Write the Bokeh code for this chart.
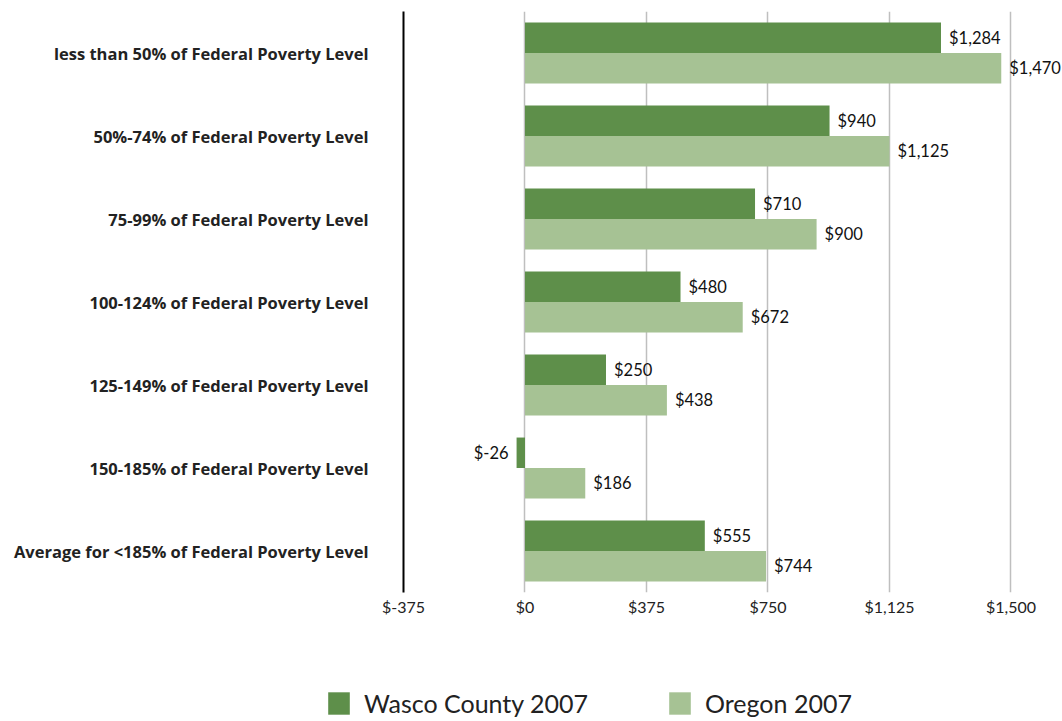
from bokeh.plotting import figure
from bokeh.layouts import column
from bokeh.models import (ColumnDataSource, FactorRange, FixedTicker, Legend, LegendItem, Range1d)
from bokeh.transform import dodge
from bokeh.core.properties import value
from bokeh.embed import file_html
from bokeh.resources import INLINE

categories = [
    "less than 50% of Federal Poverty Level",
    "50%-74% of Federal Poverty Level",
    "75-99% of Federal Poverty Level",
    "100-124% of Federal Poverty Level",
    "125-149% of Federal Poverty Level",
    "150-185% of Federal Poverty Level",
    "Average for <185% of Federal Poverty Level",
]
wasco_2007 = [1284, 940, 710, 480, 250, -26, 555]
oregon_2007 = [1470, 1125, 900, 672, 438, 186, 744]
series_names = ["Wasco County 2007", "Oregon 2007"]
tick_values = [-375, 0, 375, 750, 1125, 1500]
tick_labels = ["$-375", "$0", "$375", "$750", "$1,125", "$1,500"]

DARK = "#5E8F4A"
LIGHT = "#A6C294"
FONT = "Lato"
W = 1062


def money(v):
    return "$-{:,}".format(abs(v)) if v < 0 else "${:,}".format(v)


src = ColumnDataSource(dict(
    cat=categories,
    wasco=wasco_2007,
    oregon=oregon_2007,
    wasco_lbl=[money(v) for v in wasco_2007],
    oregon_lbl=[money(v) for v in oregon_2007],
    wasco_align=["right" if v < 0 else "left" for v in wasco_2007],
    wasco_xoff=[-8 if v < 0 else 8 for v in wasco_2007],
))

p = figure(width=W, height=640, output_backend="svg", toolbar_location=None,
           y_range=FactorRange(*reversed(categories)),
           x_range=Range1d(-375, 1659),
           min_border_left=403, min_border_right=0, min_border_top=11,
           min_border_bottom=48)
p.outline_line_color = None

r1 = p.hbar(y=dodge("cat", 0.1835, range=p.y_range), right="wasco", left=0,
            height=0.367, color=DARK, line_color=None, source=src)
r2 = p.hbar(y=dodge("cat", -0.1835, range=p.y_range), right="oregon", left=0,
            height=0.367, color=LIGHT, line_color=None, source=src)

p.text(x="wasco", y=dodge("cat", 0.1835, range=p.y_range), text="wasco_lbl",
       x_offset="wasco_xoff", text_align="wasco_align", text_baseline="middle",
       text_font=value(FONT), text_font_size="16.5px", text_color="#111111", source=src)
p.text(x="oregon", y=dodge("cat", -0.1835, range=p.y_range), text="oregon_lbl",
       x_offset=8, text_align="left", text_baseline="middle",
       text_font=value(FONT), text_font_size="16.5px", text_color="#111111", source=src)

# axes
p.xaxis.ticker = FixedTicker(ticks=tick_values)
p.xaxis.major_label_overrides = dict(zip(tick_values, tick_labels))
p.xaxis.axis_line_color = None
p.xaxis.major_tick_line_color = None
p.xaxis.major_tick_out = 0
p.xaxis.major_tick_in = 0
p.xaxis.minor_tick_line_color = None
p.xaxis.major_label_standoff = 4
p.xaxis.major_label_text_font = FONT
p.xaxis.major_label_text_font_size = "16px"
p.xaxis.major_label_text_color = "#222222"

p.yaxis.axis_line_color = "black"
p.yaxis.axis_line_width = 2
p.yaxis.major_tick_line_color = None
p.yaxis.major_tick_out = 0
p.yaxis.major_tick_in = 0
p.yaxis.minor_tick_line_color = None
p.yaxis.major_label_standoff = 35
p.yaxis.major_label_text_font = "Open Sans"
p.yaxis.major_label_text_font_style = "bold"
p.yaxis.major_label_text_font_size = "16.5px"
p.yaxis.major_label_text_color = "#222222"

p.ygrid.grid_line_color = None
p.xgrid.grid_line_color = "#BFBFBF"
p.xgrid.grid_line_width = 1.5

# legend panel
lg = figure(width=W, height=81, output_backend="svg", toolbar_location=None,
            x_range=Range1d(0, 1), y_range=Range1d(0, 1),
            min_border_left=0, min_border_right=0, min_border_top=0, min_border_bottom=0,
            x_axis_location=None, y_axis_location=None)
lg.outline_line_color = None
lg.grid.grid_line_color = None
legend_x = 325
try:
    lg.frame_align = False
except Exception:
    legend_x = 325 - 403
# zero-size stand-ins that only carry the legend swatch styles
d1 = lg.hbar(y=[0], left=[0], right=[0], height=0, color=DARK, line_color=None)
d2 = lg.hbar(y=[0], left=[0], right=[0], height=0, color=LIGHT, line_color=None)
legend = Legend(items=[LegendItem(label=series_names[0], renderers=[d1]),
                       LegendItem(label=series_names[1], renderers=[d2])],
                orientation="horizontal", location=(legend_x, 3),
                glyph_width=27, glyph_height=28, label_standoff=12, spacing=78,
                padding=0, margin=0, border_line_color=None,
                background_fill_alpha=0,
                label_text_font=FONT, label_text_font_size="25px",
                label_text_color="#222222", label_height=28)
lg.add_layout(legend, "center")

layout = column(p, lg, spacing=0)
open("out.html", "w").write(file_html(layout, INLINE))
